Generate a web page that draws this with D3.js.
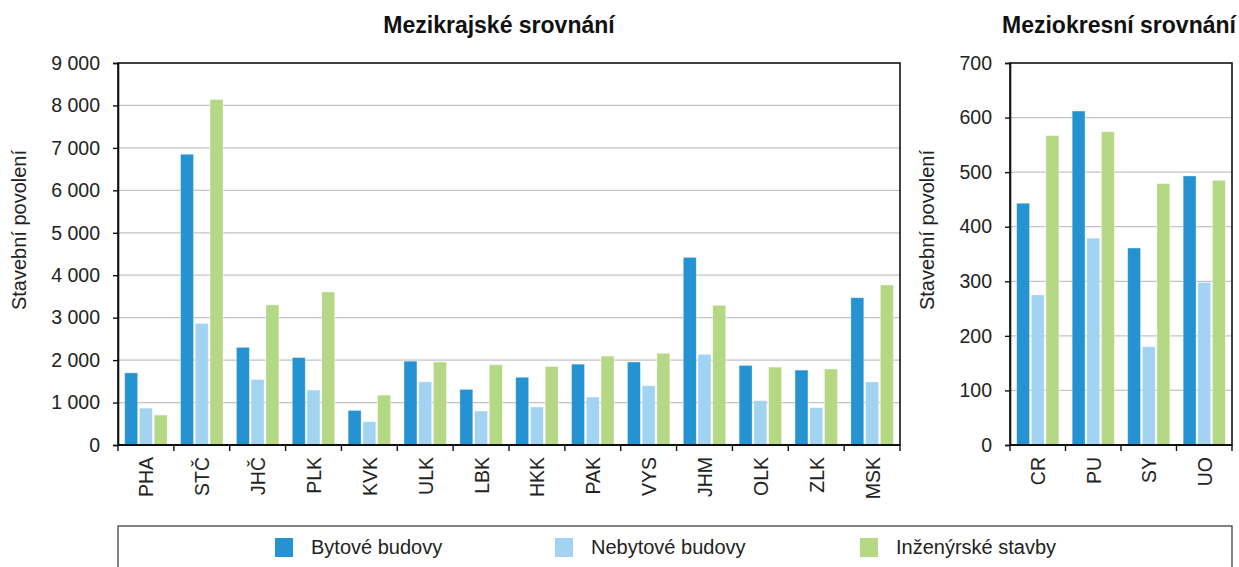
<!DOCTYPE html>
<html><head><meta charset="utf-8">
<script src="https://cdn.jsdelivr.net/npm/d3@7"></script>
<style>
body{margin:0;background:#fff;}
svg{display:block;font-family:"Liberation Sans",Arial,sans-serif;}
</style></head>
<body><svg id="c" width="1239" height="567"></svg>
<script>
const regions = ["PHA","STČ","JHČ","PLK","KVK","ULK","LBK","HKK","PAK","VYS","JHM","OLK","ZLK","MSK"];
const regBytove   = [1700,6850,2300,2060,815,1975,1310,1595,1905,1955,4420,1875,1765,3470];
const regNebytove = [870,2865,1545,1295,550,1490,800,895,1130,1395,2135,1045,880,1485];
const regInzenyr  = [705,8140,3300,3605,1175,1955,1890,1850,2095,2160,3290,1835,1790,3770];
const regTicks = [0,1000,2000,3000,4000,5000,6000,7000,8000,9000];

const districts = ["CR","PU","SY","UO"];
const disBytove   = [443,612,361,493];
const disNebytove = [275,379,180,298];
const disInzenyr  = [567,574,479,485];
const disTicks = [0,100,200,300,400,500,600,700];

const seriesNames = ["Bytové budovy","Nebytové budovy","Inženýrské stavby"];
const colors = ["#2592d1","#a2d4f1","#b5d884"];

const svg = d3.select("#c");
const fmt = v => { const s = String(v); return s.length > 3 ? s.slice(0, s.length-3) + " " + s.slice(-3) : s; };

function panel(opts){
  const {cats, series, ticks, max, x0, x1, y0, y1, title, titleX, ylabelX} = opts;
  const g = svg.append("g");
  const x = d3.scaleBand().domain(cats).range([x0,x1]).paddingInner(0.24).paddingOuter(0.12);
  const xs = d3.scaleBand().domain([0,1,2]).range([0,x.bandwidth()]).paddingInner(0.12);
  const y = d3.scaleLinear().domain([0,max]).range([y1,y0]);
  // grid
  g.append("g").selectAll("line").data(ticks.slice(1,-1)).join("line")
    .attr("x1",x0).attr("x2",x1).attr("y1",d=>y(d)).attr("y2",d=>y(d))
    .attr("stroke","#c4c4c4").attr("stroke-width",1.2);
  // bars
  const rows = cats.map((c,i)=>series.map((s,j)=>({c, j, v:s[i]})));
  g.append("g").selectAll("rect").data(rows.flat()).join("rect")
    .attr("x",d=>x(d.c)+xs(d.j)).attr("width",xs.bandwidth())
    .attr("y",d=>y(d.v)).attr("height",d=>y(0)-y(d.v))
    .attr("fill",d=>colors[d.j]).attr("stroke","#ffffff").attr("stroke-opacity",0.45).attr("stroke-width",0.8);
  // frame
  g.append("rect").attr("x",x0).attr("y",y0).attr("width",x1-x0).attr("height",y1-y0)
    .attr("fill","none").attr("stroke","#111").attr("stroke-width",1.6);
  // y axis
  const ya = d3.axisLeft(y).tickValues(ticks).tickFormat(fmt).tickSize(5).tickPadding(13);
  const yg = g.append("g").attr("transform",`translate(${x0},0)`).call(ya);
  yg.select(".domain").attr("stroke","#111").attr("stroke-width",1.6);
  yg.selectAll(".tick line").attr("stroke","#111").attr("stroke-width",1.4);
  yg.selectAll("text").attr("font-size",19.5).attr("fill","#222").attr("font-family","Liberation Sans, Arial, sans-serif");
  // x axis ticks at band boundaries
  const bounds = d3.range(cats.length+1).map(i => x0 + i*(x1-x0)/cats.length);
  g.append("g").selectAll("line").data(bounds).join("line")
    .attr("x1",d=>d).attr("x2",d=>d).attr("y1",y1).attr("y2",y1+6)
    .attr("stroke","#111").attr("stroke-width",1.4);
  g.append("line").attr("x1",x0).attr("x2",x1).attr("y1",y1).attr("y2",y1).attr("stroke","#111").attr("stroke-width",1.8);
  g.append("g").selectAll("text").data(cats).join("text")
    .attr("transform",d=>`translate(${x(d)+x.bandwidth()/2+7.5},457) rotate(-90)`)
    .attr("text-anchor","end").attr("font-size",19.5).attr("fill","#222").text(d=>d);
  // y label
  g.append("text").attr("transform",`translate(${ylabelX},230) rotate(-90)`)
    .attr("text-anchor","middle").attr("font-size",20).attr("fill","#222").text("Stavební povolení");
  // title
  g.append("text").attr("x",titleX).attr("y",33).attr("text-anchor","middle")
    .attr("font-size",23).attr("font-weight","bold").attr("fill","#111").text(title);
}

panel({cats:regions, series:[regBytove,regNebytove,regInzenyr], ticks:regTicks, max:9000,
  x0:118, x1:900, y0:63, y1:445, title:"Mezikrajské srovnání", titleX:499, ylabelX:26});
panel({cats:districts, series:[disBytove,disNebytove,disInzenyr], ticks:disTicks, max:700,
  x0:1010, x1:1232, y0:63, y1:445, title:"Meziokresní srovnání", titleX:1119, ylabelX:934});

// legend
const lg = svg.append("g");
lg.append("rect").attr("x",118).attr("y",526).attr("width",1114).attr("height",60)
  .attr("fill","none").attr("stroke","#333").attr("stroke-width",1.2);
const legX = [275,555,860];
const items = lg.selectAll("g").data(seriesNames).join("g")
  .attr("transform",(d,i)=>`translate(${legX[i]},538)`);
items.append("rect").attr("width",18).attr("height",19).attr("fill",(d,i)=>colors[i]);
items.append("text").attr("x",36).attr("y",16).attr("font-size",20).attr("fill","#222").text(d=>d);
</script></body></html>
